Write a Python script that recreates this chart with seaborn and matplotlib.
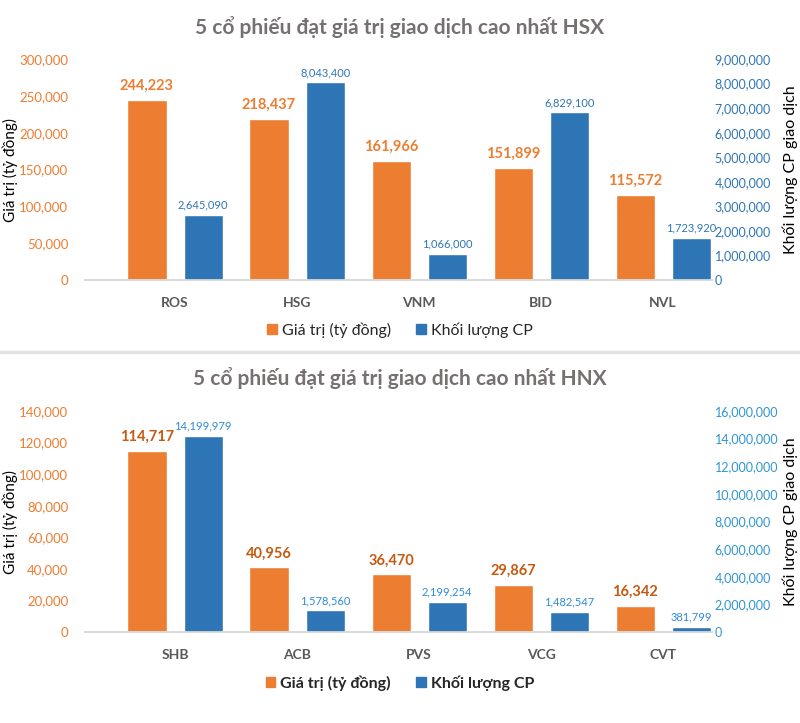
import numpy as np
import pandas as pd
import matplotlib
matplotlib.use('Agg')
import matplotlib.pyplot as plt
from matplotlib.patches import Patch
from matplotlib.lines import Line2D
from matplotlib.ticker import StrMethodFormatter
import seaborn as sns

hsx_codes = ['ROS', 'HSG', 'VNM', 'BID', 'NVL']
hsx_value = [244223, 218437, 161966, 151899, 115572]
hsx_volume = [2645090, 8043400, 1066000, 6829100, 1723920]

hnx_codes = ['SHB', 'ACB', 'PVS', 'VCG', 'CVT']
hnx_value = [114717, 40956, 36470, 29867, 16342]
hnx_volume = [14199979, 1578560, 2199254, 1482547, 381799]

S_VAL = 'Giá trị (tỷ đồng)'
S_VOL = 'Khối lượng CP'

ORANGE = '#ED7D31'
BLUE = '#2E75B6'

sns.set_theme(style='white')
plt.rcParams['font.family'] = ['Lato', 'Noto Sans', 'DejaVu Sans']

W, H = 800, 723
fig = plt.figure(figsize=(8, 7.23), dpi=100)


def fy(py):
    return 1 - py / H


def label_bars(a, pad, **kw):
    bars = sorted(a.patches, key=lambda p: p.get_x())
    for p in bars:
        a.annotate(f'{int(round(p.get_height())):,}',
                   (p.get_x() + p.get_width() / 2, p.get_height()),
                   xytext=(0, pad), textcoords='offset points',
                   ha='center', va='bottom', **kw)


def panel(top_px, bottom_px, title, title_y, legend_y, codes, values, volumes,
          lmax, lstep, rmax, rstep, lab_orange, lab_blue, tick_blue, legend_bold):
    ax = fig.add_axes([85 / W, fy(bottom_px), (712 - 85) / W, (bottom_px - top_px) / H])
    ax2 = ax.twinx()
    xs = np.arange(len(codes))
    df_val = pd.DataFrame({'x': xs - 0.23, 'v': values})
    df_vol = pd.DataFrame({'x': xs + 0.23, 'v': volumes})
    sns.barplot(data=df_val, x='x', y='v', native_scale=True, width=0.32,
                color=ORANGE, saturation=1, ax=ax)
    sns.barplot(data=df_vol, x='x', y='v', native_scale=True, width=0.32,
                color=BLUE, saturation=1, ax=ax2)

    label_bars(ax, 5, color=lab_orange, fontsize=10.5, fontweight='bold')
    label_bars(ax2, 3, color=lab_blue, fontsize=8)

    ax.set_xlim(-0.738, 4.40)
    ax.set_xticks(xs, codes)
    ax.set_ylim(0, lmax)
    ax2.set_ylim(0, rmax)
    ax.set_yticks(np.arange(0, lmax + 1, lstep))
    ax2.set_yticks(np.arange(0, rmax + 1, rstep))
    ax.yaxis.set_major_formatter(StrMethodFormatter('{x:,.0f}'))
    ax2.yaxis.set_major_formatter(StrMethodFormatter('{x:,.0f}'))
    ax.tick_params(axis='y', length=0, pad=12, labelsize=9.5, labelcolor=ORANGE)
    ax2.tick_params(axis='y', length=0, pad=2, labelsize=9, labelcolor=tick_blue)
    ax.tick_params(axis='x', length=0, pad=12, labelsize=10, labelcolor='#595959')
    for t in ax.get_xticklabels():
        t.set_fontweight('bold')
    ax.set_xlabel('')
    ax2.set_xlabel('')
    ax.set_ylabel('Giá trị (tỷ đồng)', fontsize=11, color='black')
    ax2.set_ylabel('Khối lượng CP giao dịch', fontsize=11.5, color='black')
    ax.yaxis.set_label_coords(-0.107, 0.5)
    ax2.yaxis.set_label_coords(1.113, 0.5)
    for a in (ax, ax2):
        for s in ('top', 'left', 'right'):
            a.spines[s].set_visible(False)
        a.spines['bottom'].set_color('#D9D9D9')
        a.grid(False)

    fig.text(0.5, fy(title_y), title, ha='center', va='center', fontsize=15,
             fontweight='bold', color='#767171')
    handles = [Patch(color=ORANGE, label=S_VAL), Patch(color=BLUE, label=S_VOL)]
    fig.legend(handles=handles, loc='center', bbox_to_anchor=(0.5, fy(legend_y)),
               ncol=2, frameon=False, handlelength=0.6, handleheight=0.6,
               handletextpad=0.3, columnspacing=1.6,
               prop={'size': 11.5, 'weight': 'bold' if legend_bold else 'normal'})


panel(59, 280, '5 cổ phiếu đạt giá trị giao dịch cao nhất HSX', 27, 330,
      hsx_codes, hsx_value, hsx_volume, 300000, 50000, 9000000, 1000000,
      ORANGE, BLUE, BLUE, False)
panel(411, 632, '5 cổ phiếu đạt giá trị giao dịch cao nhất HNX', 378, 683,
      hnx_codes, hnx_value, hnx_volume, 140000, 20000, 16000000, 2000000,
      '#C55A11', '#2E8BD8', '#2E95D3', True)

fig.add_artist(Line2D([0, 1], [fy(352), fy(352)], color='#E3E3E3', lw=2.5))

fig.savefig('out.png', dpi=100, facecolor='white')
